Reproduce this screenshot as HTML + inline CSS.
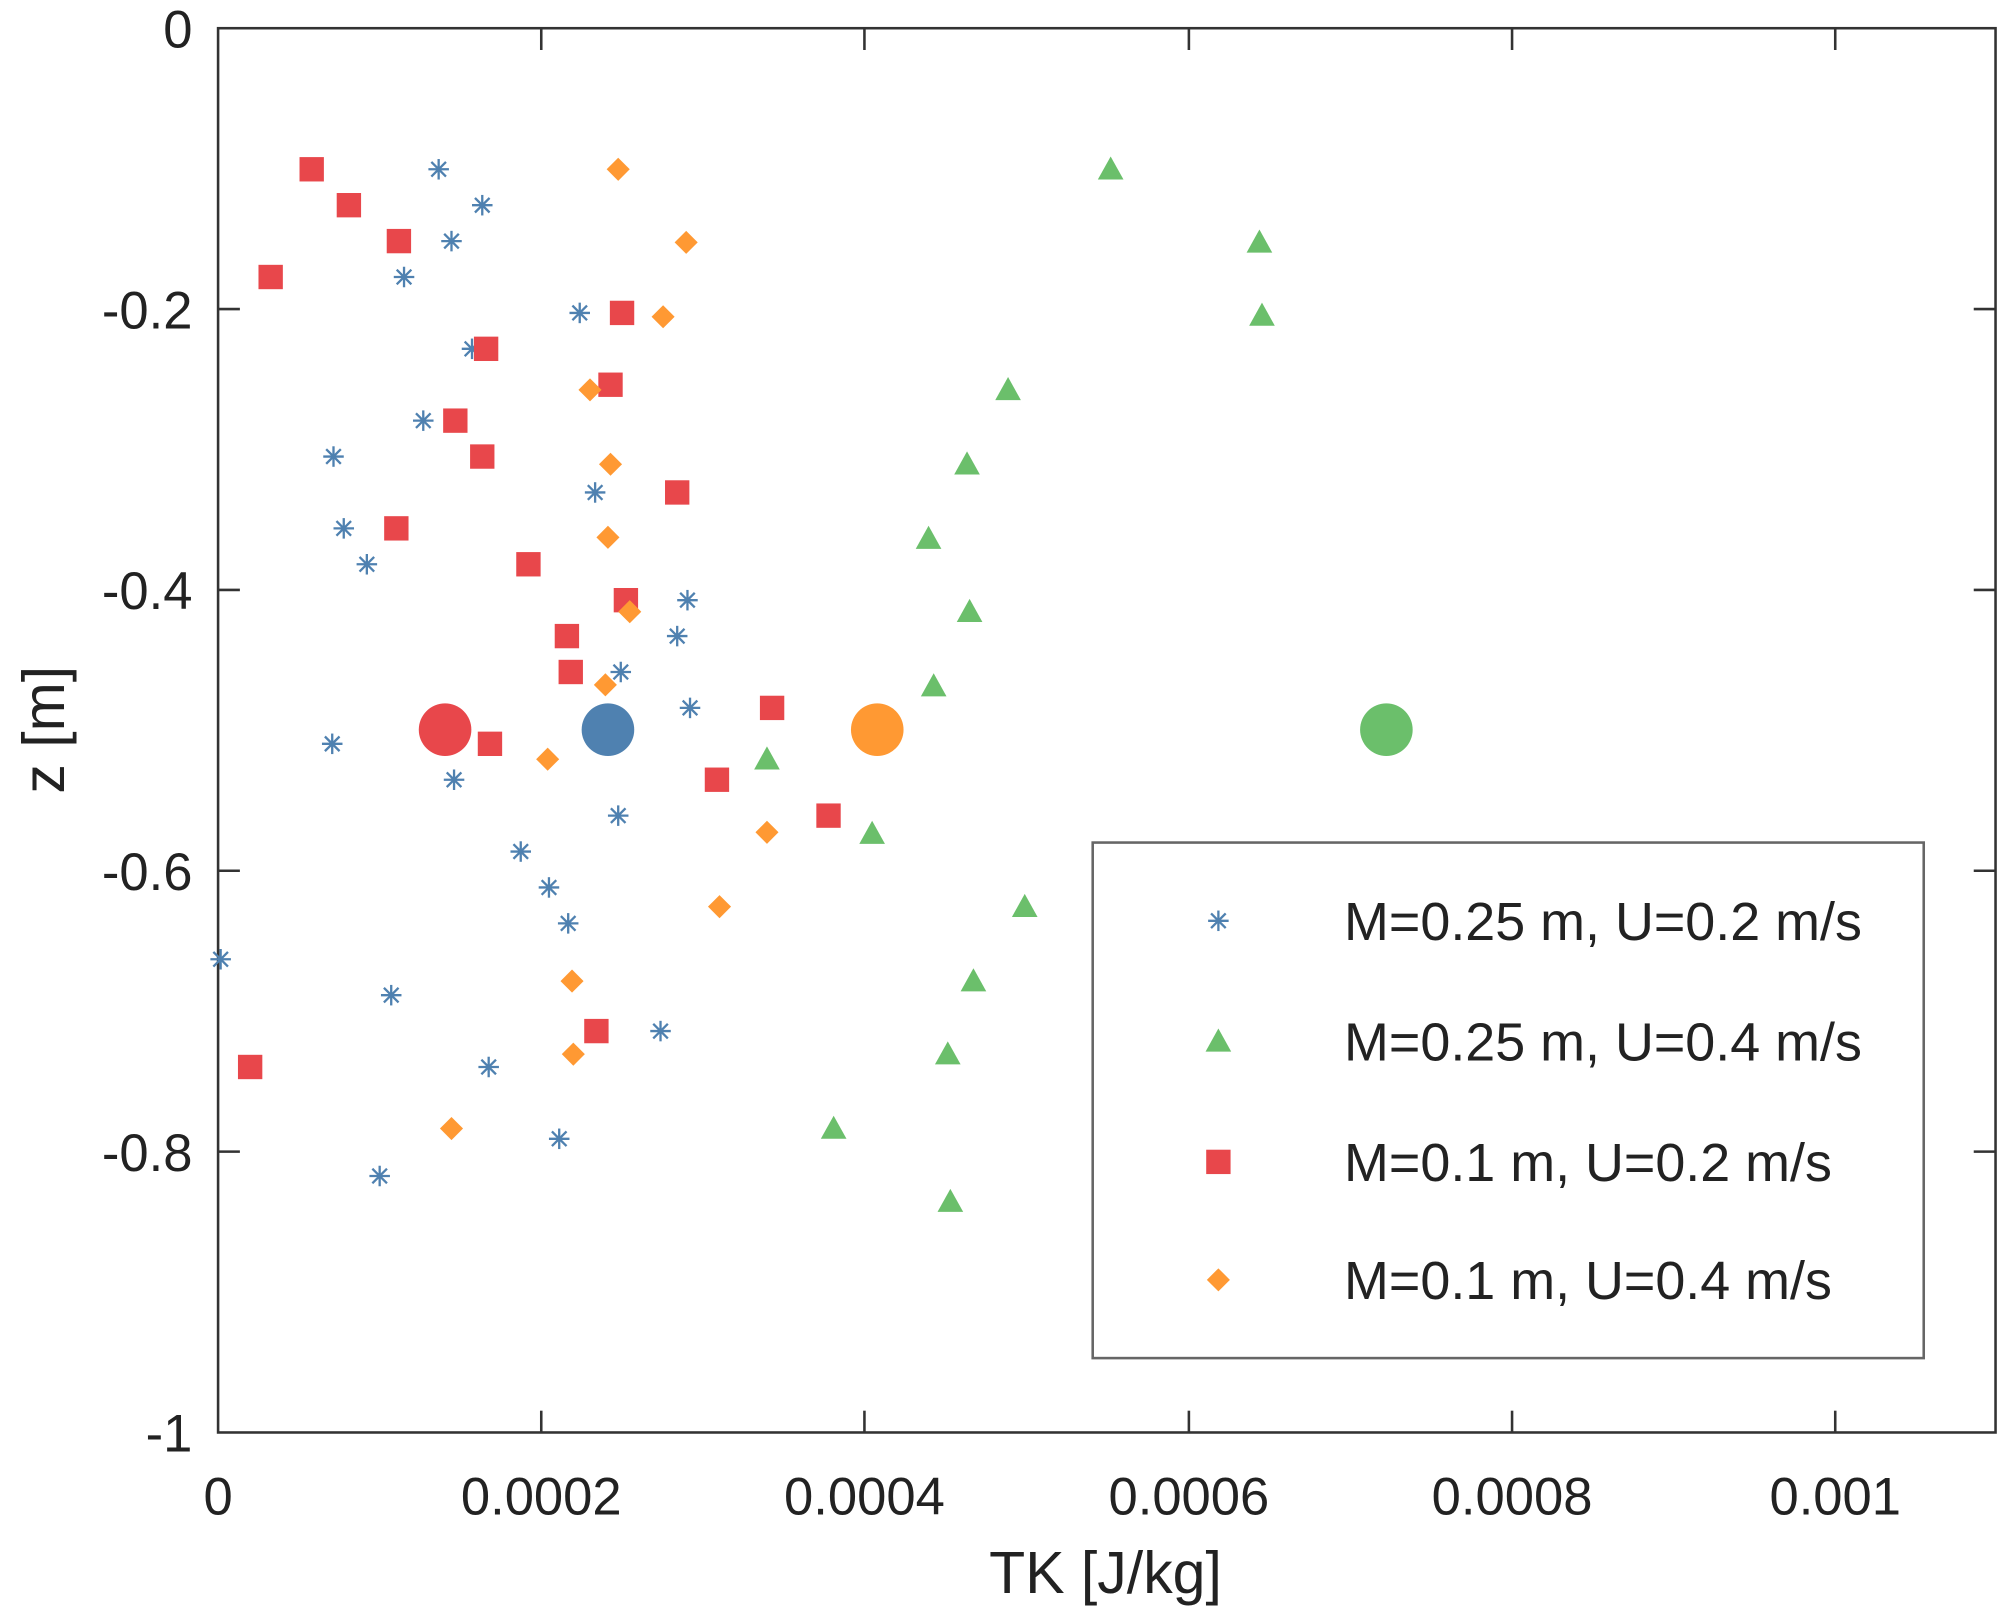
<!DOCTYPE html>
<html><head><meta charset="utf-8"><style>html,body{margin:0;padding:0;background:#fff}svg{display:block}</style></head>
<body>
<svg width="2011" height="1621" viewBox="0 0 1568 1264" xmlns="http://www.w3.org/2000/svg" font-family="Liberation Sans, sans-serif">
<defs>
<g id="ast" stroke="#4f81b0" stroke-width="1.8"><line x1="-8" y1="0" x2="8" y2="0"/><line x1="0" y1="-8" x2="0" y2="8"/><line x1="-5.7" y1="-5.7" x2="5.7" y2="5.7"/><line x1="-5.7" y1="5.7" x2="5.7" y2="-5.7"/></g>
<rect id="sq" x="-9.5" y="-9.5" width="19" height="19" fill="#e8474b"/>
<polygon id="tri" points="0,-10 10,8 -10,8" fill="#6bbf6b"/>
<polygon id="dia" points="0,-9 9,0 0,9 -9,0" fill="#ff9933"/>
</defs>
<rect x="0" y="0" width="1568" height="1264" fill="#fff"/>
<rect x="170" y="22" width="1386" height="1095" fill="none" stroke="#333" stroke-width="2"/>
<g stroke="#333" stroke-width="2">
<line x1="170" y1="241" x2="187" y2="241"/><line x1="170" y1="460" x2="187" y2="460"/><line x1="170" y1="679" x2="187" y2="679"/><line x1="170" y1="898" x2="187" y2="898"/>
<line x1="1556" y1="241" x2="1539" y2="241"/><line x1="1556" y1="460" x2="1539" y2="460"/><line x1="1556" y1="679" x2="1539" y2="679"/><line x1="1556" y1="898" x2="1539" y2="898"/>
<line x1="422" y1="1117" x2="422" y2="1100"/><line x1="674" y1="1117" x2="674" y2="1100"/><line x1="927" y1="1117" x2="927" y2="1100"/><line x1="1179" y1="1117" x2="1179" y2="1100"/><line x1="1431" y1="1117" x2="1431" y2="1100"/>
<line x1="422" y1="22" x2="422" y2="39"/><line x1="674" y1="22" x2="674" y2="39"/><line x1="927" y1="22" x2="927" y2="39"/><line x1="1179" y1="22" x2="1179" y2="39"/><line x1="1431" y1="22" x2="1431" y2="39"/>
</g>
<g font-size="41" fill="#222" text-anchor="end">
<text x="150" y="37">0</text><text x="150" y="256">-0.2</text><text x="150" y="475">-0.4</text><text x="150" y="694">-0.6</text><text x="150" y="913">-0.8</text><text x="150" y="1132">-1</text>
</g>
<g font-size="41" fill="#222" text-anchor="middle">
<text x="170" y="1181">0</text><text x="422" y="1181">0.0002</text><text x="674" y="1181">0.0004</text><text x="927" y="1181">0.0006</text><text x="1179" y="1181">0.0008</text><text x="1431" y="1181">0.001</text>
<text x="862" y="1242" font-size="46">TK [J/kg]</text>
<text transform="translate(50,569) rotate(-90)" font-size="46">z [m]</text>
</g>
<g>
<use href="#ast" x="342" y="132"/><use href="#ast" x="376" y="160"/><use href="#ast" x="352" y="188"/><use href="#ast" x="315" y="216"/><use href="#ast" x="452" y="244"/><use href="#ast" x="368" y="272"/><use href="#ast" x="330" y="328"/><use href="#ast" x="260" y="356"/><use href="#ast" x="464" y="384"/><use href="#ast" x="268" y="412"/><use href="#ast" x="286" y="440"/><use href="#ast" x="536" y="468"/><use href="#ast" x="528" y="496"/><use href="#ast" x="484" y="524"/><use href="#ast" x="538" y="552"/><use href="#ast" x="259" y="580"/><use href="#ast" x="354" y="608"/><use href="#ast" x="482" y="636"/><use href="#ast" x="406" y="664"/><use href="#ast" x="428" y="692"/><use href="#ast" x="443" y="720"/><use href="#ast" x="172" y="748"/><use href="#ast" x="305" y="776"/><use href="#ast" x="515" y="804"/><use href="#ast" x="381" y="832"/><use href="#ast" x="436" y="888"/><use href="#ast" x="296" y="917"/>
</g>
<g>
<use href="#tri" x="866" y="132"/><use href="#tri" x="982" y="189"/><use href="#tri" x="984" y="246"/><use href="#tri" x="786" y="304"/><use href="#tri" x="754" y="362"/><use href="#tri" x="724" y="420"/><use href="#tri" x="756" y="477"/><use href="#tri" x="728" y="535"/><use href="#tri" x="598" y="592"/><use href="#tri" x="680" y="650"/><use href="#tri" x="799" y="707"/><use href="#tri" x="759" y="765"/><use href="#tri" x="739" y="822"/><use href="#tri" x="650" y="880"/><use href="#tri" x="741" y="937"/>
</g>
<g>
<use href="#sq" x="243" y="132"/><use href="#sq" x="272" y="160"/><use href="#sq" x="311" y="188"/><use href="#sq" x="211" y="216"/><use href="#sq" x="485" y="244"/><use href="#sq" x="379" y="272"/><use href="#sq" x="476" y="300"/><use href="#sq" x="355" y="328"/><use href="#sq" x="376" y="356"/><use href="#sq" x="528" y="384"/><use href="#sq" x="309" y="412"/><use href="#sq" x="412" y="440"/><use href="#sq" x="488" y="468"/><use href="#sq" x="442" y="496"/><use href="#sq" x="445" y="524"/><use href="#sq" x="602" y="552"/><use href="#sq" x="382" y="580"/><use href="#sq" x="559" y="608"/><use href="#sq" x="646" y="636"/><use href="#sq" x="465" y="804"/><use href="#sq" x="195" y="832"/>
</g>
<g>
<use href="#dia" x="482" y="132"/><use href="#dia" x="535" y="189"/><use href="#dia" x="517" y="247"/><use href="#dia" x="460" y="304"/><use href="#dia" x="476" y="362"/><use href="#dia" x="474" y="419"/><use href="#dia" x="491" y="477"/><use href="#dia" x="472" y="534"/><use href="#dia" x="427" y="592"/><use href="#dia" x="598" y="649"/><use href="#dia" x="561" y="707"/><use href="#dia" x="446" y="765"/><use href="#dia" x="447" y="822"/><use href="#dia" x="352" y="880"/>
</g>
<circle cx="347" cy="569" r="20.5" fill="#e8474b"/>
<circle cx="474" cy="569" r="20.5" fill="#4f81b0"/>
<circle cx="684" cy="569" r="20.5" fill="#ff9933"/>
<circle cx="1081" cy="569" r="20.5" fill="#6bbf6b"/>
<rect x="852" y="657" width="648" height="402" fill="#fff" stroke="#666" stroke-width="2"/>
<use href="#ast" x="950" y="718"/><use href="#tri" x="950" y="812"/><use href="#sq" x="950" y="906"/><use href="#dia" x="950" y="998"/>
<g font-size="42" fill="#222">
<text x="1048" y="733">M=0.25 m, U=0.2 m/s</text>
<text x="1048" y="827">M=0.25 m, U=0.4 m/s</text>
<text x="1048" y="921">M=0.1 m, U=0.2 m/s</text>
<text x="1048" y="1013">M=0.1 m, U=0.4 m/s</text>
</g>
</svg>
</body></html>
